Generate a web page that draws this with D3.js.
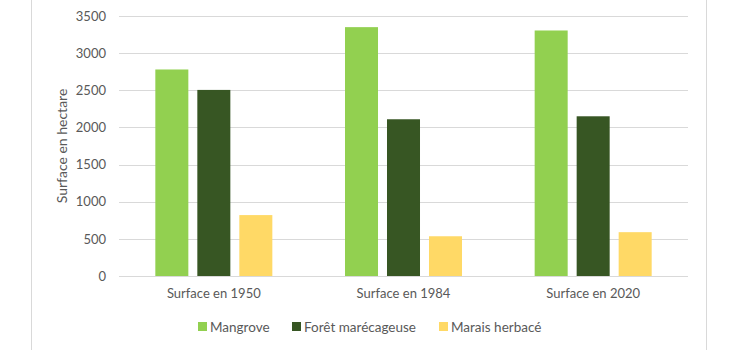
<!DOCTYPE html>
<html>
<head>
<meta charset="utf-8">
<script src="https://cdn.jsdelivr.net/npm/d3@7"></script>
<style>
  html, body { margin: 0; padding: 0; background: #fff; }
  svg { display: block; font-family: Lato, "Open Sans", sans-serif; }
</style>
</head>
<body>
<svg id="chart" width="750" height="350"></svg>
<script>
// Surface areas (hectares) per vegetation type and period
const categories = ["Surface en 1950", "Surface en 1984", "Surface en 2020"];
const seriesNames = ["Mangrove", "Forêt marécageuse", "Marais herbacé"];
const mangrove = [2780, 3350, 3305];
const foret = [2505, 2110, 2150];
const marais = [820, 535, 590];
const yTicks = [0, 500, 1000, 1500, 2000, 2500, 3000, 3500];
const colors = ["#92d050", "#375623", "#ffd966"];

const seriesValues = [mangrove, foret, marais];
const svg = d3.select("#chart");

// Frame lines on both sides
svg.append("line").attr("x1", 31.5).attr("x2", 31.5).attr("y1", 0).attr("y2", 350)
  .attr("stroke", "#d9d9d9").attr("stroke-width", 1);
svg.append("line").attr("x1", 706.5).attr("x2", 706.5).attr("y1", 0).attr("y2", 350)
  .attr("stroke", "#d9d9d9").attr("stroke-width", 1);

const plot = { left: 119, right: 688, top: 16, bottom: 276 };

const x0 = d3.scaleBand().domain(categories).range([plot.left, plot.right]).padding(0);
const x1 = d3.scaleBand().domain(seriesNames)
  .range([0, x0.bandwidth()]).paddingInner(0.214).paddingOuter(0.865);
const y = d3.scaleLinear().domain([0, 3500]).range([plot.bottom, plot.top]);

// Horizontal gridlines
svg.append("g").selectAll("line").data(yTicks).join("line")
  .attr("x1", plot.left).attr("x2", plot.right)
  .attr("y1", d => Math.round(y(d)) + 0.5).attr("y2", d => Math.round(y(d)) + 0.5)
  .attr("stroke", "#d9d9d9").attr("stroke-width", 1);

// Y axis tick labels
const yAxis = d3.axisLeft(y).tickValues(yTicks).tickSize(0).tickPadding(0).tickFormat(d3.format("d"));
const gy = svg.append("g").attr("transform", `translate(106,0)`).call(yAxis);
gy.select(".domain").remove();
gy.selectAll("text").attr("fill", "#595959").style("font-size", "13px")
  .style("font-family", "Lato, 'Open Sans', sans-serif");

// Bars
const groups = svg.append("g").selectAll("g").data(categories).join("g")
  .attr("transform", c => `translate(${x0(c)},0)`);
groups.selectAll("rect")
  .data((c, i) => seriesNames.map((s, j) => ({ s, j, v: seriesValues[j][i] })))
  .join("rect")
  .attr("x", d => x1(d.s))
  .attr("width", x1.bandwidth())
  .attr("y", d => y(d.v))
  .attr("height", d => y(0) - y(d.v))
  .attr("fill", d => colors[d.j]);

// X axis category labels
const xAxis = d3.axisBottom(x0).tickSize(0).tickPadding(0);
const gx = svg.append("g").attr("transform", `translate(0,${plot.bottom + 13})`).call(xAxis);
gx.select(".domain").remove();
gx.selectAll("text").attr("fill", "#595959").style("font-size", "13px")
  .style("font-family", "Lato, 'Open Sans', sans-serif");

// Y axis title
svg.append("text")
  .attr("transform", `translate(67,${(plot.top + plot.bottom) / 2}) rotate(-90)`)
  .attr("text-anchor", "middle")
  .attr("fill", "#595959").style("font-size", "14px")
  .text("Surface en hectare");

// Legend
const legendX = [198, 292, 439];
const legend = svg.append("g").selectAll("g").data(seriesNames).join("g")
  .attr("transform", (d, i) => `translate(${legendX[i]},322)`);
legend.append("rect").attr("width", 9).attr("height", 9).attr("fill", (d, i) => colors[i]);
legend.append("text").attr("x", 12).attr("y", 9.5)
  .attr("fill", "#595959").style("font-size", "13.5px").text(d => d);
</script>
</body>
</html>
